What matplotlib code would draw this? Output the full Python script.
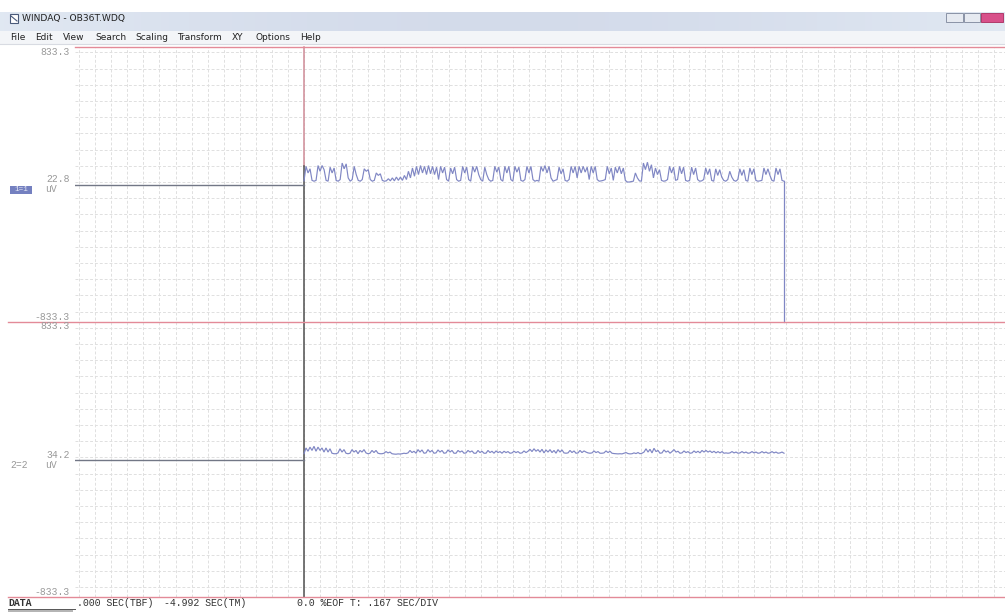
import numpy as np
import matplotlib
matplotlib.use("Agg")
import matplotlib.pyplot as plt
from matplotlib.lines import Line2D
from matplotlib.patches import Rectangle

W, H = 1005, 613

# ---------------- data (values in uV, sampled evenly over the record) ----------------
record_seconds = 4.992
sec_per_div = 0.167
full_scale = 833.3
pre_trigger_level = 0.0
ch1_end_level = -833.3

ch1_uV = [
    22, 110, 70, 95, 25, 20, 25, 115, 80, 115, 90, 25, 20, 105, 70, 100, 25, 20, 30, 130,
    95, 125, 40, 20, 30, 110, 60, 25, 20, 30, 95, 80, 90, 30, 20, 25, 70, 55, 65, 25,
    20, 22, 35, 22, 40, 22, 45, 25, 45, 25, 55, 30, 80, 40, 100, 50, 110, 60, 115, 70,
    110, 60, 115, 65, 110, 60, 105, 30, 110, 70, 105, 30, 20, 100, 65, 105, 30, 20, 25, 110,
    70, 105, 30, 20, 110, 75, 110, 60, 30, 20, 105, 60, 30, 20, 25, 110, 75, 105, 30, 20,
    110, 70, 110, 30, 20, 110, 75, 105, 25, 20, 30, 110, 70, 110, 30, 20, 25, 20, 110, 80,
    115, 70, 110, 40, 20, 25, 30, 105, 65, 95, 25, 20, 30, 110, 70, 110, 40, 110, 70, 110,
    75, 105, 30, 110, 70, 110, 30, 20, 22, 25, 30, 110, 65, 100, 25, 105, 70, 110, 65, 100,
    25, 15, 15, 18, 20, 70, 40, 22, 20, 130, 90, 135, 80, 120, 40, 100, 60, 90, 25, 20,
    22, 30, 110, 70, 105, 25, 30, 110, 65, 105, 25, 20, 25, 105, 60, 100, 30, 20, 22, 30,
    100, 60, 95, 25, 20, 95, 55, 90, 45, 25, 20, 30, 80, 45, 25, 20, 30, 95, 55, 90,
    25, 20, 100, 60, 95, 25, 20, 22, 25, 100, 60, 95, 55, 25, 20, 100, 60, 95, 25, 20,
]

ch2_uV = [
    35, 70, 50, 75, 55, 80, 50, 75, 55, 70, 45, 70, 45, 65, 38, 35, 35, 40, 65, 45,
    60, 38, 35, 38, 60, 45, 55, 35, 55, 45, 60, 40, 35, 38, 55, 42, 55, 38, 35, 35,
    38, 48, 40, 45, 35, 33, 32, 34, 33, 35, 38, 36, 40, 55, 42, 50, 38, 60, 45, 58,
    38, 40, 60, 45, 55, 38, 40, 58, 45, 55, 38, 40, 58, 45, 55, 38, 38, 55, 45, 52,
    38, 40, 55, 45, 52, 38, 38, 55, 42, 50, 38, 38, 55, 42, 50, 38, 52, 42, 48, 38,
    50, 42, 48, 38, 40, 50, 42, 48, 38, 40, 52, 42, 50, 62, 48, 65, 50, 60, 45, 62,
    40, 58, 45, 60, 42, 55, 38, 60, 45, 58, 40, 38, 40, 55, 42, 52, 38, 40, 55, 42,
    52, 45, 40, 38, 40, 52, 42, 48, 38, 38, 40, 52, 42, 50, 38, 36, 35, 34, 35, 34,
    38, 42, 36, 34, 35, 40, 36, 42, 35, 38, 45, 65, 45, 62, 40, 68, 48, 55, 38, 40,
    58, 45, 52, 38, 48, 60, 45, 50, 38, 40, 52, 42, 48, 38, 40, 52, 42, 50, 40, 55,
    45, 55, 45, 52, 42, 50, 40, 48, 40, 48, 38, 40, 38, 40, 48, 40, 45, 38, 40, 48,
    40, 45, 38, 40, 48, 40, 45, 38, 40, 48, 40, 45, 38, 40, 48, 40, 45, 38, 40, 45,
    38,
]

ch1_cursor_value = "22.8"
ch2_cursor_value = "34.2"
scale_top = "833.3"
scale_bottom = "-833.3"
units = "uV"
title_text = "WINDAQ - OB36T.WDQ"
menu_items = ["File", "Edit", "View", "Search", "Scaling", "Transform", "XY", "Options", "Help"]
status_items = ["DATA", ".000 SEC(TBF)", "-4.992 SEC(TM)", "0.0 %EOF T: .167 SEC/DIV"]

# ---------------- layout helpers (pixel positions) ----------------
def fx(x):
    return x / W

def fy(y):
    return 1 - y / H

PL, PR, PT, PM, PB = 75, 1005, 47, 322, 597   # plot area edges in px
CUR_PX, END_PX = 304, 784
px_per_s = (END_PX - CUR_PX) / record_seconds
xmin = (PL - CUR_PX) / px_per_s
xmax = (PR - CUR_PX) / px_per_s

fig = plt.figure(figsize=(W / 100, H / 100), dpi=100)
fig.patch.set_facecolor("white")

mono = ["Liberation Mono", "DejaVu Sans Mono"]
sans = ["DejaVu Sans"]

# ---- title bar with gradient ----
ax_title = fig.add_axes([0, fy(31), 1, (31 - 12) / H])
grad = np.linspace(0, 1, 256)
r = 0.88 - 0.05 * np.sin(grad * np.pi)
g = 0.91 - 0.05 * np.sin(grad * np.pi)
b = 0.95 - 0.03 * np.sin(grad * np.pi)
img = np.stack([r, g, b], axis=-1)[np.newaxis, :, :]
ax_title.imshow(np.repeat(img, 2, axis=0), aspect="auto", extent=[0, 1, 0, 1])
ax_title.set_axis_off()

# menu bar
fig.add_artist(Rectangle((0, fy(44)), 1, 13 / H, transform=fig.transFigure,
                         facecolor="#f3f5f8", edgecolor="none"))
fig.add_artist(Line2D([0, 1], [fy(44), fy(44)], transform=fig.transFigure,
                      color="#d8dbe2", lw=0.8))

# window icon
fig.add_artist(Rectangle((fx(10), fy(23)), 8 / W, 9 / H, transform=fig.transFigure,
                         facecolor="white", edgecolor="#4a5a7a", lw=0.8))
fig.add_artist(Line2D([fx(11), fx(17)], [fy(16), fy(21)], transform=fig.transFigure,
                      color="#4a5a7a", lw=0.8))
fig.text(fx(22), fy(18.5), title_text, fontsize=6.6, family=sans, va="center",
         ha="left", color="#222222")

# window buttons
fig.add_artist(Rectangle((fx(946), fy(22)), 17 / W, 9 / H, transform=fig.transFigure,
                         facecolor="#e6eaf1", edgecolor="#8a93a6", lw=0.7))
fig.add_artist(Rectangle((fx(964), fy(22)), 16 / W, 9 / H, transform=fig.transFigure,
                         facecolor="#e6eaf1", edgecolor="#8a93a6", lw=0.7))
fig.add_artist(Rectangle((fx(981), fy(22)), 22 / W, 9 / H, transform=fig.transFigure,
                         facecolor="#d8508a", edgecolor="#b03a6a", lw=0.7))

menu_x = [10, 35, 63, 95, 135, 177, 232, 255, 300]
for mx, item in zip(menu_x, menu_items):
    fig.text(fx(mx), fy(38), item, fontsize=6.5, family=sans, va="center",
             ha="left", color="#222222")

# ---- background grid axes ----
grid_kw = dict(color="#e0e0e0", lw=0.7, ls=(0, (3, 2)), zorder=0)
ax_bg = fig.add_axes([fx(PL), fy(PB), (PR - PL) / W, (PB - PT) / H])
ax_bg.set_xlim(xmin, xmax)
ax_bg.set_ylim(PB, PT)
ax_bg.set_axis_off()
k0 = int(np.floor(xmin / sec_per_div))
k1 = int(np.ceil(xmax / sec_per_div))
for k in range(k0, k1 + 1):
    ax_bg.axvline(k * sec_per_div, **grid_kw)
gy = 182.0
spacing = 16.2
ys = []
y = gy
while y > PT + 2:
    ys.append(y)
    y -= spacing
y = gy + spacing
while y < PB - 2:
    ys.append(y)
    y += spacing
for yy in ys:
    ax_bg.axhline(yy, **grid_kw)

# cursor line
ax_bg.plot([0, 0], [PT, 166], color="#d08c97", lw=1.1, clip_on=False, zorder=2)
ax_bg.plot([0, 0], [166, PB], color="#505050", lw=1.1, clip_on=False, zorder=2)

# red channel boundaries
for yy, x0 in [(PT, 75), (PM, 8), (PB, 8)]:
    fig.add_artist(Line2D([fx(x0), 1], [fy(yy), fy(yy)], transform=fig.transFigure,
                          color="#e38a98", lw=1.0, zorder=3))

# ---- channel axes ----
def channel_axes(top, bottom):
    ax = fig.add_axes([fx(PL), fy(bottom), (PR - PL) / W, (bottom - top) / H])
    ax.set_xlim(xmin, xmax)
    ax.set_ylim(-full_scale, full_scale)
    ax.set_axis_off()
    ax.patch.set_alpha(0)
    return ax

trace_color = "#8087c4"
base_color = "#727786"

ax1 = channel_axes(PT, PM)
t1 = np.linspace(0, record_seconds, len(ch1_uV))
ax1.plot([xmin, 0], [pre_trigger_level, pre_trigger_level], color=base_color, lw=1.0)
ax1.plot(t1, ch1_uV, color=trace_color, lw=0.85, solid_joinstyle="miter")
ax1.plot([t1[-1], t1[-1]], [ch1_uV[-1], ch1_end_level], color=trace_color, lw=0.9,
         clip_on=False)

ax2 = channel_axes(PM, PB)
t2 = np.linspace(0, record_seconds, len(ch2_uV))
ax2.plot([xmin, 0], [pre_trigger_level, pre_trigger_level], color=base_color, lw=1.0)
ax2.plot(t2, ch2_uV, color=trace_color, lw=0.85, solid_joinstyle="miter")

# ---- left labels ----
lab_col = "#9a9a9a"
fig.text(fx(70), fy(52), scale_top, fontsize=7, family=mono, ha="right", va="center", color=lab_col)
fig.text(fx(70), fy(179), ch1_cursor_value, fontsize=7, family=mono, ha="right", va="center", color=lab_col)
fig.text(fx(45), fy(189), units, fontsize=7, family=mono, ha="left", va="center", color=lab_col)
fig.add_artist(Rectangle((fx(10), fy(194)), 22 / W, 8 / H, transform=fig.transFigure,
                         facecolor="#7480c0", edgecolor="none"))
fig.text(fx(21), fy(190), "1=1", fontsize=5.5, family=mono, ha="center", va="center", color="#e8eaf6")
fig.text(fx(70), fy(317), scale_bottom, fontsize=7, family=mono, ha="right", va="center", color=lab_col)
fig.text(fx(70), fy(326), scale_top, fontsize=7, family=mono, ha="right", va="center", color=lab_col)
fig.text(fx(70), fy(455), ch2_cursor_value, fontsize=7, family=mono, ha="right", va="center", color=lab_col)
fig.text(fx(45), fy(465), units, fontsize=7, family=mono, ha="left", va="center", color=lab_col)
fig.text(fx(10), fy(465), "2=2", fontsize=7, family=mono, ha="left", va="center", color=lab_col)
fig.text(fx(70), fy(592), scale_bottom, fontsize=7, family=mono, ha="right", va="center", color=lab_col)

# ---- status line ----
status_x = [8, 77, 164, 297]
for sx, item in zip(status_x, status_items):
    fig.text(fx(sx), fy(603.5), item, fontsize=7.1, family=mono, ha="left", va="center",
             color="#333333", fontweight="bold" if item == "DATA" else "normal")
fig.add_artist(Line2D([fx(8), fx(75)], [fy(608.5), fy(608.5)], transform=fig.transFigure,
                      color="#555555", lw=0.7))
fig.add_artist(Rectangle((fx(8), fy(612)), 65 / W, 2.5 / H, transform=fig.transFigure,
                         facecolor="#b5b5b5", edgecolor="none"))

fig.savefig("out.png", dpi=100, facecolor="white")
